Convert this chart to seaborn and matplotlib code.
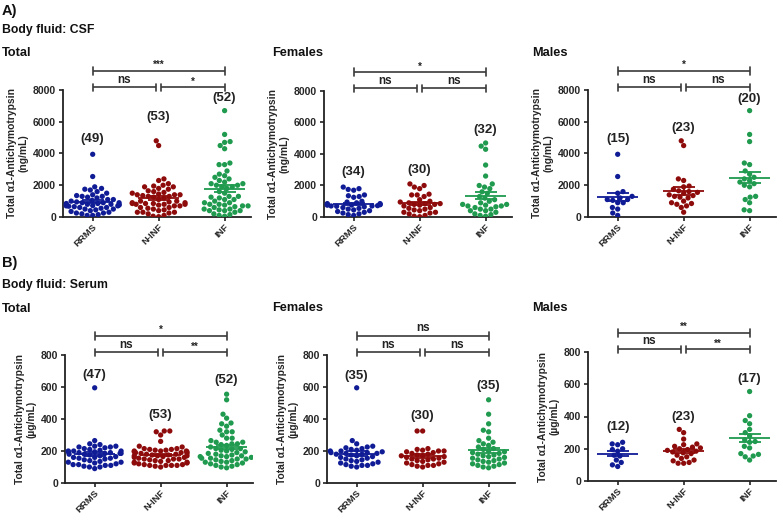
import numpy as np
import pandas as pd
import matplotlib
matplotlib.use("Agg")
import matplotlib.pyplot as plt
import seaborn as sns

# ---------------- data ----------------
groups = ["RRMS", "N-INF", "INF"]
colors = ["#101C96", "#8E0B0B", "#1F9A4E"]

# CSF (ng/mL)
csf_f_rrms = [1900, 1800, 1750, 1700, 1400, 1350, 1300, 1250, 1000, 950, 900, 850, 850, 800, 800, 780, 760,
              750, 720, 700, 700, 680, 650, 600, 550, 500, 450, 400, 350, 300, 250, 200, 150, 100]
csf_f_ninf = [2100, 2000, 1900, 1800, 1450, 1400, 1400, 1300, 1100, 1000, 950, 900, 850, 850, 800, 800, 750,
              700, 600, 550, 500, 450, 400, 300, 300, 250, 200, 100, 50, 20]
csf_f_inf = [4700, 4500, 4300, 3300, 2600, 2100, 2000, 1900, 1800, 1600, 1500, 1300, 1200, 1100, 1000, 900,
             800, 800, 750, 700, 700, 650, 600, 500, 500, 400, 400, 300, 200, 150, 100, 50]
csf_m_rrms = [3950, 2550, 1600, 1500, 1300, 1200, 1100, 1100, 1050, 900, 900, 600, 500, 250, 100]
csf_m_ninf = [4800, 4500, 2400, 2300, 1950, 1900, 1750, 1650, 1600, 1550, 1500, 1400, 1350, 1300, 1250, 1200,
              1000, 900, 850, 800, 700, 600, 300]
csf_m_inf = [6700, 5200, 4750, 3400, 3300, 2900, 2700, 2500, 2400, 2300, 2200, 2100, 2000, 1900, 1300, 1250,
             1100, 900, 450, 400]

# Serum (µg/mL)
ser_f_rrms = [595, 265, 245, 230, 225, 220, 215, 210, 205, 200, 200, 195, 190, 190, 185, 185, 180, 180, 175,
              170, 165, 160, 155, 150, 145, 140, 135, 130, 125, 120, 115, 110, 110, 105, 100]
ser_f_ninf = [325, 325, 215, 210, 205, 200, 200, 195, 190, 185, 180, 175, 170, 170, 165, 160, 155, 150, 150,
              145, 140, 135, 130, 125, 120, 115, 110, 110, 105, 100]
ser_f_inf = [520, 430, 370, 330, 320, 280, 265, 255, 245, 235, 225, 215, 210, 200, 195, 190, 185, 180, 175,
             170, 165, 160, 155, 150, 145, 140, 135, 130, 125, 120, 115, 110, 105, 100, 95]
ser_m_rrms = [240, 230, 225, 200, 195, 185, 160, 155, 130, 115, 100, 90]
ser_m_ninf = [320, 300, 260, 230, 225, 215, 210, 205, 200, 195, 190, 185, 180, 175, 170, 160, 150, 140, 130,
              125, 115, 110, 110]
ser_m_inf = [555, 405, 375, 355, 320, 300, 280, 255, 245, 240, 215, 205, 170, 165, 155, 150, 130]

csf_female = [csf_f_rrms, csf_f_ninf, csf_f_inf]
csf_male = [csf_m_rrms, csf_m_ninf, csf_m_inf]
csf_total = [a + b for a, b in zip(csf_female, csf_male)]
ser_female = [ser_f_rrms, ser_f_ninf, ser_f_inf]
ser_male = [ser_m_rrms, ser_m_ninf, ser_m_inf]
ser_total = [a + b for a, b in zip(ser_female, ser_male)]

sig_csf_total = ["***", "ns", "*"]
sig_csf_female = ["*", "ns", "ns"]
sig_csf_male = ["*", "ns", "ns"]
sig_ser_total = ["*", "ns", "**"]
sig_ser_female = ["ns", "ns", "ns"]
sig_ser_male = ["**", "ns", "**"]

# ---------------- style ----------------
sns.set_theme(style="ticks")
plt.rcParams["font.family"] = ["Liberation Sans", "DejaVu Sans"]
plt.rcParams["font.weight"] = "bold"
plt.rcParams["axes.labelweight"] = "bold"

W, H = 784, 517
fig = plt.figure(figsize=(W / 100, H / 100), dpi=100)


def make_ax(left_px, top_px, bottom_px, width_px=188):
    return fig.add_axes([left_px / W, 1 - bottom_px / H, width_px / W, (bottom_px - top_px) / H])


def bracket(ax, x0, x1, y, label):
    t = ax.get_xaxis_transform()
    col = "#3a3a3a"
    ax.plot([x0, x1], [y, y], color=col, lw=1.2, transform=t, clip_on=False, solid_capstyle="butt")
    for x in (x0, x1):
        ax.plot([x, x], [y - 0.03, y + 0.03], color=col, lw=1.2, transform=t, clip_on=False)
    fs = 8.5 if label == "ns" else 7
    ax.text((x0 + x1) / 2, y + (0.015 if label == "ns" else 0.005), label, ha="center", va="bottom",
            fontsize=fs, fontweight="bold", transform=t, color="#222222")


def draw(ax, data, ymax, ylabel, count_y, sig):
    df = pd.DataFrame({
        "group": np.repeat(groups, [len(v) for v in data]),
        "value": np.concatenate([np.asarray(v, float) for v in data]),
    })
    sns.swarmplot(data=df, x="group", y="value", hue="group", order=groups, hue_order=groups,
                  palette=colors, size=3.8, ax=ax, legend=False, linewidth=0)
    for i, v in enumerate(data):
        v = np.asarray(v, float)
        m = v.mean()
        se = v.std(ddof=1) / np.sqrt(len(v))
        ax.hlines(m, i - 0.31, i + 0.31, color=colors[i], lw=1.3, zorder=5)
        ax.errorbar(i, m, yerr=se, color=colors[i], capsize=8, capthick=1.3, lw=1.3, zorder=5, fmt="none")
        ax.text(i, count_y[i], f"({len(v)})", ha="center", va="center", fontsize=9.5,
                fontweight="bold", color="#222222")
    ax.set_xlim(-0.45, 2.4)
    ax.set_ylim(0, ymax)
    ax.set_yticks(np.linspace(0, ymax, 5))
    ax.set_xlabel("")
    ax.set_ylabel(ylabel, fontsize=7.4, fontweight="bold", labelpad=3)
    ax.tick_params(axis="y", labelsize=7.5, width=1.2, length=3, color="#222222", pad=2)
    ax.tick_params(axis="x", labelsize=6.8, width=1.2, length=3, color="#222222", pad=1)
    for lab in ax.get_yticklabels():
        lab.set_fontweight("bold")
    ax.set_xticks(range(3))
    ax.set_xticklabels(groups, rotation=45, ha="right", rotation_mode="anchor", fontweight="bold")
    sns.despine(ax=ax)
    for s in ("left", "bottom"):
        ax.spines[s].set_linewidth(1.3)
        ax.spines[s].set_color("#222222")
    bracket(ax, 0, 2, 1.15, sig[0])
    bracket(ax, 0, 0.96, 1.02, sig[1])
    bracket(ax, 1.04, 2, 1.02, sig[2])


lab_csf = "Total \u03b11-Antichymotrypsin\n(ng/mL)"
lab_ser = "Total \u03b11-Antichymotrypsin\n(\u00b5g/mL)"

ax1 = make_ax(63, 90, 217)
draw(ax1, csf_total, 8000, lab_csf, [4890, 6290, 7490], sig_csf_total)
ax2 = make_ax(324, 91, 217)
draw(ax2, csf_female, 8000, lab_csf, [2860, 2980, 5520], sig_csf_female)
ax3 = make_ax(588, 90, 217)
draw(ax3, csf_male, 8000, lab_csf, [4890, 5590, 7430], sig_csf_male)

ax4 = make_ax(65, 355, 483)
draw(ax4, ser_total, 800, lab_ser, [676, 422, 645], sig_ser_total)
ax5 = make_ax(327, 355, 483)
draw(ax5, ser_female, 800, lab_ser, [669, 419, 606], sig_ser_female)
ax6 = make_ax(588, 352, 481)
draw(ax6, ser_male, 800, lab_ser, [335, 397, 633], sig_ser_male)

# ---------------- headings ----------------
def ftext(x, y, s, fs):
    fig.text(x / W, 1 - y / H, s, fontsize=fs, fontweight="bold", ha="left", va="center", color="#111111")

ftext(2, 11, "A)", 10.5)
ftext(2, 30, "Body fluid: CSF", 8.8)
ftext(2, 53, "Total", 9.2)
ftext(272, 53, "Females", 9.2)
ftext(532, 53, "Males", 9.2)
ftext(2, 263, "B)", 10.5)
ftext(2, 285, "Body fluid: Serum", 8.8)
ftext(2, 309, "Total", 9.2)
ftext(272, 308, "Females", 9.2)
ftext(532, 308, "Males", 9.2)

fig.savefig("out.png", dpi=100)
